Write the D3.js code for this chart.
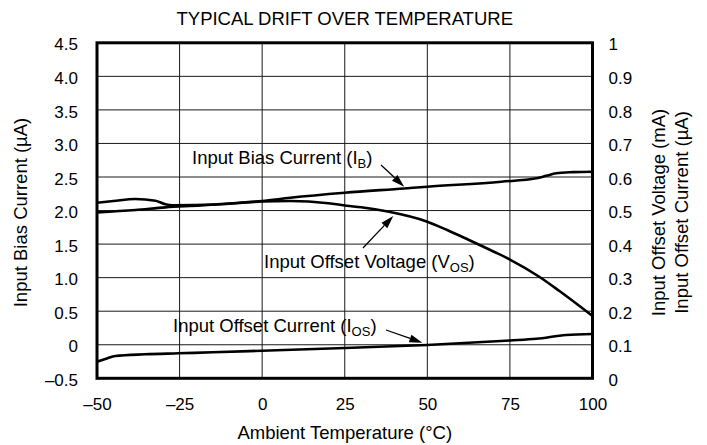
<!DOCTYPE html>
<html><head><meta charset="utf-8">
<script src="https://cdn.jsdelivr.net/npm/d3@7"></script>
<style>
html,body{margin:0;padding:0;background:#fff;}
svg{display:block;font-family:"Liberation Sans",Arial,Helvetica,sans-serif;}
</style></head>
<body>
<svg id="chart" width="707" height="445"></svg>
<script>
// ---- data ----
const xTicks = [-50, -25, 0, 25, 50, 75, 100];
const xTickLabels = ["\u201350", "\u201325", "0", "25", "50", "75", "100"];
const leftTicks = [-0.5, 0, 0.5, 1.0, 1.5, 2.0, 2.5, 3.0, 3.5, 4.0, 4.5];
const leftTickLabels = ["\u20130.5", "0", "0.5", "1.0", "1.5", "2.0", "2.5", "3.0", "3.5", "4.0", "4.5"];
const rightTicks = [0, 0.1, 0.2, 0.3, 0.4, 0.5, 0.6, 0.7, 0.8, 0.9, 1];
const rightTickLabels = ["0", "0.1", "0.2", "0.3", "0.4", "0.5", "0.6", "0.7", "0.8", "0.9", "1"];

// Input Bias Current (uA, left axis)
const ibTemp  = [-50, -38.4, -29.3, -18.6, -10, 0, 8.5, 25, 43, 50, 72.4, 83, 86, 89, 94, 100];
const ibValue = [1.973, 2.008, 2.048, 2.075, 2.105, 2.142, 2.191, 2.266, 2.329, 2.355, 2.43, 2.481, 2.518, 2.555, 2.572, 2.579];

// Input Offset Voltage (mA, right axis)
const vosTemp  = [-50, -45, -38.4, -32.3, -29.3, -27, -14, 0, 8.5, 20, 25.6, 30, 38, 50, 56, 62.6, 70, 75, 84, 90, 100];
const vosValue = [0.5234, 0.5285, 0.5344, 0.5294, 0.5186, 0.516, 0.518, 0.527, 0.5286, 0.522, 0.5145, 0.5097, 0.497, 0.4668, 0.442, 0.4122, 0.378, 0.354, 0.302, 0.260, 0.1857];

// Input Offset Current (uA, right axis)
const iosTemp  = [-50, -47, -44.5, -35.5, -25.4, -15, 0, 25, 50, 75, 83, 92, 100];
const iosValue = [0.0495, 0.059, 0.0665, 0.0715, 0.0745, 0.0775, 0.0823, 0.0903, 0.0993, 0.1127, 0.1177, 0.129, 0.132];

// ---- layout ----
const svg = d3.select("#chart");
const X0 = 97, X1 = 592.5, Y0 = 42.8, Y1 = 378.3;
const x = d3.scaleLinear().domain([-50, 100]).range([X0, X1]);
const yL = d3.scaleLinear().domain([-0.5, 4.5]).range([Y1, Y0]);
const yR = d3.scaleLinear().domain([0, 1]).range([Y1, Y0]);

// grid
const grid = svg.append("g").attr("stroke", "#1a1a1a").attr("stroke-width", 1);
grid.selectAll("line.h").data(leftTicks.slice(1, -1)).enter().append("line")
  .attr("x1", X0).attr("x2", X1).attr("y1", d => yL(d)).attr("y2", d => yL(d));
grid.selectAll("line.v").data(xTicks.slice(1, -1)).enter().append("line")
  .attr("y1", Y0).attr("y2", Y1).attr("x1", d => x(d)).attr("x2", d => x(d));

// curves
const lineL = d3.line().x(d => x(d[0])).y(d => yL(d[1])).curve(d3.curveMonotoneX);
const lineR = d3.line().x(d => x(d[0])).y(d => yR(d[1])).curve(d3.curveMonotoneX);
const curves = svg.append("g").attr("fill", "none").attr("stroke", "#000").attr("stroke-width", 2.6)
  .attr("stroke-linejoin", "round").attr("stroke-linecap", "butt");
curves.append("path").attr("d", lineL(d3.zip(ibTemp, ibValue)));
curves.append("path").attr("d", lineR(d3.zip(vosTemp, vosValue)));
curves.append("path").attr("d", lineR(d3.zip(iosTemp, iosValue)));

// frame
svg.append("rect").attr("x", X0).attr("y", Y0).attr("width", X1 - X0).attr("height", Y1 - Y0)
  .attr("fill", "none").attr("stroke", "#000").attr("stroke-width", 3);

// axes
const tickFont = 17;
const axL = svg.append("g").attr("transform", `translate(${X0},0)`)
  .call(d3.axisLeft(yL).tickValues(leftTicks).tickSize(0).tickPadding(19)
    .tickFormat((d, i) => leftTickLabels[i]));
const axR = svg.append("g").attr("transform", `translate(${X1},0)`)
  .call(d3.axisRight(yR).tickValues(rightTicks).tickSize(0).tickPadding(16)
    .tickFormat((d, i) => rightTickLabels[i]));
const axB = svg.append("g").attr("transform", `translate(0,${Y1})`)
  .call(d3.axisBottom(x).tickValues(xTicks).tickSize(0).tickPadding(20)
    .tickFormat((d, i) => xTickLabels[i]));
[axL, axR, axB].forEach(a => {
  a.select(".domain").remove();
  a.selectAll("text").attr("font-size", tickFont).attr("fill", "#000")
    .attr("font-family", "Liberation Sans, Arial, sans-serif");
});
axL.selectAll("text").attr("dy", "0.42em");
axR.selectAll("text").attr("dy", "0.42em");

// titles
const txt = (x0, y0, s, size, anchor, rot) => {
  const t = svg.append("text").attr("font-size", size).attr("fill", "#000")
    .attr("text-anchor", anchor || "middle").text(s);
  if (rot) t.attr("transform", `translate(${x0},${y0}) rotate(${rot})`);
  else t.attr("x", x0).attr("y", y0);
  return t;
};
txt((X0 + X1) / 2, 25, "TYPICAL DRIFT OVER TEMPERATURE", 18.5);
txt((X0 + X1) / 2, 439, "Ambient Temperature (\u00B0C)", 18.5);
txt(27, 212.5, "Input Bias Current (\u00B5A)", 18.5, "middle", -90);
txt(665, 212.5, "Input Offset Voltage (mA)", 18.5, "middle", -90);
txt(688, 212.5, "Input Offset Current (\u00B5A)", 18.5, "middle", -90);

// annotations
const annotations = [
  { main: "Input Bias Current (I", sub: "B", tx: 192, ty: 164, sx: 381, sy: 165, tipT: 43, tipV: 2.355, scale: yL },
  { main: "Input Offset Voltage (V", sub: "OS", tx: 264, ty: 268, sx: 363, sy: 248, tipT: 39.7, tipV: 0.4838, scale: yR },
  { main: "Input Offset Current (I", sub: "OS", tx: 173, ty: 332, sx: 386, sy: 330, tipT: 48.5, tipV: 0.1061, scale: yR }
];
annotations.forEach(a => {
  const t = svg.append("text").attr("x", a.tx).attr("y", a.ty).attr("font-size", 18.5).attr("fill", "#000");
  t.append("tspan").text(a.main);
  t.append("tspan").attr("font-size", 13).attr("dy", 4).text(a.sub);
  t.append("tspan").attr("dy", -4).text(")");
  const ex = x(a.tipT), ey = a.scale(a.tipV);
  const dx = ex - a.sx, dy = ey - a.sy, L = Math.hypot(dx, dy);
  const ux = dx / L, uy = dy / L, hl = 13, hw = 4;
  const bx = ex - ux * hl, by = ey - uy * hl;
  svg.append("line").attr("x1", a.sx).attr("y1", a.sy).attr("x2", bx).attr("y2", by)
    .attr("stroke", "#000").attr("stroke-width", 1.3);
  svg.append("polygon").attr("fill", "#000")
    .attr("points", [[ex, ey], [bx - uy * hw, by + ux * hw], [bx + uy * hw, by - ux * hw]].map(p => p.join(",")).join(" "));
});
</script>
</body></html>
